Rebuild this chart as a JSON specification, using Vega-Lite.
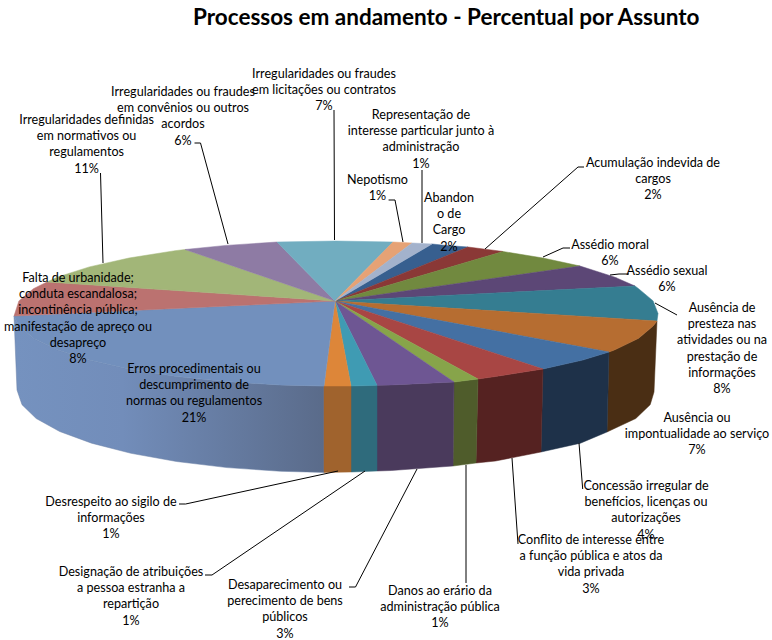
{"$schema":"https://vega.github.io/schema/vega-lite/v6.json","width":772,"height":640,"padding":0,"autosize":{"type":"none"},"background":"white","view":{"stroke":null},
"title":{"text":"Processos em andamento - Percentual por Assunto","anchor":"start","frame":"group","offset":0,"dx":193,"dy":29,"font":"Lato","fontSize":22.5,"fontWeight":"bold","color":"#000000"},
"resolve":{"scale":{"fill":"independent","stroke":"independent"}},
"datasets":{
"topo":[
{"fatia":"Abandono","ordem":0,"x":335,"y":301},{"fatia":"Abandono","ordem":1,"x":432,"y":244},{"fatia":"Abandono","ordem":2,"x":446,"y":245.4},{"fatia":"Abandono","ordem":3,"x":468,"y":247},{"fatia":"Abandono","ordem":4,"x":335,"y":301},
{"fatia":"Acumulacao","ordem":0,"x":335,"y":301},{"fatia":"Acumulacao","ordem":1,"x":468,"y":247},{"fatia":"Acumulacao","ordem":2,"x":497,"y":250.7},{"fatia":"Acumulacao","ordem":3,"x":503,"y":251.5},{"fatia":"Acumulacao","ordem":4,"x":335,"y":301},
{"fatia":"Moral","ordem":0,"x":335,"y":301},{"fatia":"Moral","ordem":1,"x":503,"y":251.5},{"fatia":"Moral","ordem":2,"x":543,"y":258},{"fatia":"Moral","ordem":3,"x":580,"y":266},{"fatia":"Moral","ordem":4,"x":335,"y":301},
{"fatia":"Sexual","ordem":0,"x":335,"y":301},{"fatia":"Sexual","ordem":1,"x":580,"y":266},{"fatia":"Sexual","ordem":2,"x":614.9,"y":277.2},{"fatia":"Sexual","ordem":3,"x":635,"y":286},{"fatia":"Sexual","ordem":4,"x":335,"y":301},
{"fatia":"Presteza","ordem":0,"x":335,"y":301},{"fatia":"Presteza","ordem":1,"x":635,"y":286},{"fatia":"Presteza","ordem":2,"x":638.6,"y":288.7},{"fatia":"Presteza","ordem":3,"x":653.1,"y":300.9},{"fatia":"Presteza","ordem":4,"x":658,"y":313.5},{"fatia":"Presteza","ordem":5,"x":657,"y":321},{"fatia":"Presteza","ordem":6,"x":335,"y":301},
{"fatia":"Impontualidade","ordem":0,"x":335,"y":301},{"fatia":"Impontualidade","ordem":1,"x":657,"y":321},{"fatia":"Impontualidade","ordem":2,"x":653.1,"y":326.1},{"fatia":"Impontualidade","ordem":3,"x":638.6,"y":338.3},{"fatia":"Impontualidade","ordem":4,"x":614.9,"y":349.8},{"fatia":"Impontualidade","ordem":5,"x":609,"y":352},{"fatia":"Impontualidade","ordem":6,"x":335,"y":301},
{"fatia":"Concessao","ordem":0,"x":335,"y":301},{"fatia":"Concessao","ordem":1,"x":609,"y":352},{"fatia":"Concessao","ordem":2,"x":582.7,"y":360.1},{"fatia":"Concessao","ordem":3,"x":543,"y":369},{"fatia":"Concessao","ordem":4,"x":335,"y":301},
{"fatia":"Conflito","ordem":0,"x":335,"y":301},{"fatia":"Conflito","ordem":1,"x":543,"y":369},{"fatia":"Conflito","ordem":2,"x":497,"y":376.3},{"fatia":"Conflito","ordem":3,"x":478,"y":379},{"fatia":"Conflito","ordem":4,"x":335,"y":301},
{"fatia":"Danos","ordem":0,"x":335,"y":301},{"fatia":"Danos","ordem":1,"x":478,"y":379},{"fatia":"Danos","ordem":2,"x":454,"y":382},{"fatia":"Danos","ordem":3,"x":335,"y":301},
{"fatia":"Desaparecimento","ordem":0,"x":335,"y":301},{"fatia":"Desaparecimento","ordem":1,"x":454,"y":382},{"fatia":"Desaparecimento","ordem":2,"x":391.9,"y":384.9},{"fatia":"Desaparecimento","ordem":3,"x":377,"y":385.3},{"fatia":"Desaparecimento","ordem":4,"x":335,"y":301},
{"fatia":"Designacao","ordem":0,"x":335,"y":301},{"fatia":"Designacao","ordem":1,"x":377,"y":385.3},{"fatia":"Designacao","ordem":2,"x":351,"y":386},{"fatia":"Designacao","ordem":3,"x":335,"y":301},
{"fatia":"Desrespeito","ordem":0,"x":335,"y":301},{"fatia":"Desrespeito","ordem":1,"x":351,"y":386},{"fatia":"Desrespeito","ordem":2,"x":324,"y":386},{"fatia":"Desrespeito","ordem":3,"x":335,"y":301},
{"fatia":"Erros","ordem":0,"x":335,"y":301},{"fatia":"Erros","ordem":1,"x":324,"y":386},{"fatia":"Erros","ordem":2,"x":280.1,"y":384.9},{"fatia":"Erros","ordem":3,"x":225.9,"y":381.6},{"fatia":"Erros","ordem":4,"x":175,"y":376.3},{"fatia":"Erros","ordem":5,"x":129,"y":369},{"fatia":"Erros","ordem":6,"x":89.3,"y":360.1},{"fatia":"Erros","ordem":7,"x":57.1,"y":349.8},{"fatia":"Erros","ordem":8,"x":33.4,"y":338.3},{"fatia":"Erros","ordem":9,"x":18.9,"y":326.1},{"fatia":"Erros","ordem":10,"x":14,"y":316},{"fatia":"Erros","ordem":11,"x":335,"y":301},
{"fatia":"Falta","ordem":0,"x":335,"y":301},{"fatia":"Falta","ordem":1,"x":14,"y":316},{"fatia":"Falta","ordem":2,"x":18.9,"y":300.9},{"fatia":"Falta","ordem":3,"x":33.4,"y":288.7},{"fatia":"Falta","ordem":4,"x":47,"y":282},{"fatia":"Falta","ordem":5,"x":335,"y":301},
{"fatia":"Normativos","ordem":0,"x":335,"y":301},{"fatia":"Normativos","ordem":1,"x":47,"y":282},{"fatia":"Normativos","ordem":2,"x":57.1,"y":277.2},{"fatia":"Normativos","ordem":3,"x":89.3,"y":266.9},{"fatia":"Normativos","ordem":4,"x":129,"y":258},{"fatia":"Normativos","ordem":5,"x":175,"y":250.7},{"fatia":"Normativos","ordem":6,"x":185,"y":249.5},{"fatia":"Normativos","ordem":7,"x":335,"y":301},
{"fatia":"Convenios","ordem":0,"x":335,"y":301},{"fatia":"Convenios","ordem":1,"x":185,"y":249.5},{"fatia":"Convenios","ordem":2,"x":225.9,"y":245.4},{"fatia":"Convenios","ordem":3,"x":277,"y":242},{"fatia":"Convenios","ordem":4,"x":335,"y":301},
{"fatia":"Licitacoes","ordem":0,"x":335,"y":301},{"fatia":"Licitacoes","ordem":1,"x":277,"y":242},{"fatia":"Licitacoes","ordem":2,"x":336,"y":241},{"fatia":"Licitacoes","ordem":3,"x":393,"y":242},{"fatia":"Licitacoes","ordem":4,"x":335,"y":301},
{"fatia":"Nepotismo","ordem":0,"x":335,"y":301},{"fatia":"Nepotismo","ordem":1,"x":393,"y":242},{"fatia":"Nepotismo","ordem":2,"x":412,"y":243},{"fatia":"Nepotismo","ordem":3,"x":335,"y":301},
{"fatia":"Representacao","ordem":0,"x":335,"y":301},{"fatia":"Representacao","ordem":1,"x":412,"y":243},{"fatia":"Representacao","ordem":2,"x":432,"y":244},{"fatia":"Representacao","ordem":3,"x":335,"y":301}
],
"lateral":[
{"fatia":"Impontualidade","ordem":1,"x":657,"y":321},{"fatia":"Impontualidade","ordem":2,"x":653.1,"y":326.1},{"fatia":"Impontualidade","ordem":3,"x":638.6,"y":338.3},{"fatia":"Impontualidade","ordem":4,"x":614.9,"y":349.8},{"fatia":"Impontualidade","ordem":5,"x":609,"y":352},{"fatia":"Impontualidade","ordem":6,"x":607,"y":432},{"fatia":"Impontualidade","ordem":7,"x":635.8,"y":418.5},{"fatia":"Impontualidade","ordem":8,"x":650.2,"y":404.7},{"fatia":"Impontualidade","ordem":9,"x":654,"y":392},{"fatia":"Impontualidade","ordem":10,"x":657,"y":321},
{"fatia":"Concessao","ordem":1,"x":609,"y":352},{"fatia":"Concessao","ordem":2,"x":582.7,"y":360.1},{"fatia":"Concessao","ordem":3,"x":543,"y":369},{"fatia":"Concessao","ordem":4,"x":541,"y":452},{"fatia":"Concessao","ordem":5,"x":580.4,"y":443.2},{"fatia":"Concessao","ordem":6,"x":607,"y":432},{"fatia":"Concessao","ordem":7,"x":609,"y":352},
{"fatia":"Conflito","ordem":1,"x":543,"y":369},{"fatia":"Conflito","ordem":2,"x":497,"y":376.3},{"fatia":"Conflito","ordem":3,"x":478,"y":379},{"fatia":"Conflito","ordem":4,"x":476,"y":463},{"fatia":"Conflito","ordem":5,"x":495.5,"y":461},{"fatia":"Conflito","ordem":6,"x":541,"y":452},{"fatia":"Conflito","ordem":7,"x":543,"y":369},
{"fatia":"Danos","ordem":1,"x":478,"y":379},{"fatia":"Danos","ordem":2,"x":454,"y":382},{"fatia":"Danos","ordem":3,"x":453,"y":466},{"fatia":"Danos","ordem":4,"x":476,"y":463},{"fatia":"Danos","ordem":5,"x":478,"y":379},
{"fatia":"Desaparecimento","ordem":1,"x":454,"y":382},{"fatia":"Desaparecimento","ordem":2,"x":391.9,"y":384.9},{"fatia":"Desaparecimento","ordem":3,"x":377,"y":385.3},{"fatia":"Desaparecimento","ordem":4,"x":377,"y":471},{"fatia":"Desaparecimento","ordem":5,"x":391.4,"y":470.5},{"fatia":"Desaparecimento","ordem":6,"x":453,"y":466},{"fatia":"Desaparecimento","ordem":7,"x":454,"y":382},
{"fatia":"Designacao","ordem":1,"x":377,"y":385.3},{"fatia":"Designacao","ordem":2,"x":351,"y":386},{"fatia":"Designacao","ordem":3,"x":351,"y":472},{"fatia":"Designacao","ordem":4,"x":377,"y":471},{"fatia":"Designacao","ordem":5,"x":377,"y":385.3},
{"fatia":"Desrespeito","ordem":1,"x":351,"y":386},{"fatia":"Desrespeito","ordem":2,"x":324,"y":386},{"fatia":"Desrespeito","ordem":3,"x":324,"y":472.4},{"fatia":"Desrespeito","ordem":4,"x":351,"y":472},{"fatia":"Desrespeito","ordem":5,"x":351,"y":386}
],
"lateralErros":[
{"fatia":"Erros","ordem":1,"x":324,"y":386},{"fatia":"Erros","ordem":2,"x":280.1,"y":384.9},{"fatia":"Erros","ordem":3,"x":225.9,"y":381.6},{"fatia":"Erros","ordem":4,"x":175,"y":376.3},{"fatia":"Erros","ordem":5,"x":129,"y":369},{"fatia":"Erros","ordem":6,"x":89.3,"y":360.1},{"fatia":"Erros","ordem":7,"x":57.1,"y":349.8},{"fatia":"Erros","ordem":8,"x":33.4,"y":338.3},{"fatia":"Erros","ordem":9,"x":18.9,"y":326.1},{"fatia":"Erros","ordem":10,"x":14,"y":316},{"fatia":"Erros","ordem":11,"x":17,"y":390},{"fatia":"Erros","ordem":12,"x":22,"y":404.7},{"fatia":"Erros","ordem":13,"x":36.2,"y":418.5},{"fatia":"Erros","ordem":14,"x":59.7,"y":431.5},{"fatia":"Erros","ordem":15,"x":91.6,"y":443.2},{"fatia":"Erros","ordem":16,"x":131,"y":453.3},{"fatia":"Erros","ordem":17,"x":176.5,"y":461.5},{"fatia":"Erros","ordem":18,"x":227,"y":467.6},{"fatia":"Erros","ordem":19,"x":280.6,"y":471.3},{"fatia":"Erros","ordem":20,"x":324,"y":472.4},{"fatia":"Erros","ordem":21,"x":324,"y":386}
],
"guias":[
{"fatia":"Normativos","ordem":1,"x":100.5,"y":173},{"fatia":"Normativos","ordem":2,"x":103,"y":263},
{"fatia":"Convenios","ordem":1,"x":194.5,"y":143},{"fatia":"Convenios","ordem":2,"x":200.5,"y":143},{"fatia":"Convenios","ordem":3,"x":228,"y":244},
{"fatia":"Licitacoes","ordem":1,"x":334,"y":110},{"fatia":"Licitacoes","ordem":2,"x":334.5,"y":240},
{"fatia":"Nepotismo","ordem":1,"x":388.6,"y":200},{"fatia":"Nepotismo","ordem":2,"x":395,"y":200},{"fatia":"Nepotismo","ordem":3,"x":403,"y":242},
{"fatia":"Representacao","ordem":1,"x":422,"y":170},{"fatia":"Representacao","ordem":2,"x":422,"y":243},
{"fatia":"Acumulacao","ordem":1,"x":584,"y":167},{"fatia":"Acumulacao","ordem":2,"x":578,"y":167},{"fatia":"Acumulacao","ordem":3,"x":485,"y":249},
{"fatia":"Moral","ordem":1,"x":570,"y":248},{"fatia":"Moral","ordem":2,"x":563,"y":248},{"fatia":"Moral","ordem":3,"x":543,"y":257},
{"fatia":"Sexual","ordem":1,"x":629,"y":274},{"fatia":"Sexual","ordem":2,"x":619,"y":274},{"fatia":"Sexual","ordem":3,"x":610,"y":275},
{"fatia":"Presteza","ordem":1,"x":655,"y":303},{"fatia":"Presteza","ordem":2,"x":677,"y":315},
{"fatia":"Concessao","ordem":1,"x":579,"y":443},{"fatia":"Concessao","ordem":2,"x":582.7,"y":489},
{"fatia":"Conflito","ordem":1,"x":512,"y":458},{"fatia":"Conflito","ordem":2,"x":518,"y":544},
{"fatia":"Danos","ordem":1,"x":466,"y":465},{"fatia":"Danos","ordem":2,"x":466,"y":583},
{"fatia":"Desaparecimento","ordem":1,"x":417,"y":469},{"fatia":"Desaparecimento","ordem":2,"x":355.5,"y":587},{"fatia":"Desaparecimento","ordem":3,"x":349,"y":587},
{"fatia":"Designacao","ordem":1,"x":365,"y":471},{"fatia":"Designacao","ordem":2,"x":212,"y":575},{"fatia":"Designacao","ordem":3,"x":205,"y":575},
{"fatia":"Desrespeito","ordem":1,"x":338,"y":471},{"fatia":"Desrespeito","ordem":2,"x":185.6,"y":504},{"fatia":"Desrespeito","ordem":3,"x":179,"y":504}
],
"rotulos":[
{"assunto":"Irregularidades ou fraudes em licitações ou contratos","percentual":7,"rotulo":"Irregularidades ou fraudes\nem  licitações ou contratos\n7%","x":324,"y":66},
{"assunto":"Irregularidades ou fraudes em convênios ou outros acordos","percentual":6,"rotulo":"Irregularidades ou fraudes\nem convênios ou outros\nacordos\n6%","x":183,"y":84},
{"assunto":"Irregularidades definidas em normativos ou regulamentos","percentual":11,"rotulo":"Irregularidades definidas\nem normativos ou\nregulamentos\n11%","x":86.6,"y":112},
{"assunto":"Representação de interesse particular junto à administração","percentual":1,"rotulo":"Representação de\ninteresse particular junto à\nadministração\n1%","x":421,"y":107},
{"assunto":"Nepotismo","percentual":1,"rotulo":"Nepotismo\n1%","x":377.5,"y":172},
{"assunto":"Abandono de Cargo","percentual":2,"rotulo":"Abandon\no de\nCargo\n2%","x":449,"y":190},
{"assunto":"Acumulação indevida de cargos","percentual":2,"rotulo":"Acumulação indevida de\ncargos\n2%","x":653,"y":155},
{"assunto":"Assédio moral","percentual":6,"rotulo":"Assédio moral\n6%","x":610,"y":237},
{"assunto":"Assédio sexual","percentual":6,"rotulo":"Assédio sexual\n6%","x":667,"y":263},
{"assunto":"Ausência de presteza nas atividades ou na prestação de informações","percentual":8,"rotulo":"Ausência de\npresteza nas\natividades ou na\nprestação de\ninformações\n8%","x":722,"y":300},
{"assunto":"Ausência ou impontualidade ao serviço","percentual":7,"rotulo":"Ausência ou\nimpontualidade ao serviço\n7%","x":697,"y":410},
{"assunto":"Concessão irregular de benefícios, licenças ou autorizações","percentual":4,"rotulo":"Concessão irregular de\nbenefícios, licenças ou\nautorizações\n4%","x":646,"y":478},
{"assunto":"Conflito de interesse entre a função pública e atos da vida privada","percentual":3,"rotulo":"Conflito de interesse entre\na função pública e atos da\nvida privada\n3%","x":591,"y":532},
{"assunto":"Danos ao erário da administração pública","percentual":1,"rotulo":"Danos ao erário da\nadministração pública\n1%","x":440,"y":583},
{"assunto":"Desaparecimento ou perecimento de bens públicos","percentual":3,"rotulo":"Desaparecimento ou\nperecimento de bens\npúblicos\n3%","x":285,"y":577},
{"assunto":"Designação de atribuições a pessoa estranha a repartição","percentual":1,"rotulo":"Designação de atribuições\na pessoa estranha a\nrepartição\n1%","x":131,"y":564},
{"assunto":"Desrespeito ao sigilo de informações","percentual":1,"rotulo":"Desrespeito ao sigilo de\ninformações\n1%","x":111,"y":494},
{"assunto":"Falta de urbanidade; conduta escandalosa; incontinência pública; manifestação de apreço ou desapreço","percentual":8,"rotulo":"Falta de urbanidade;\nconduta escandalosa;\nincontinência pública;\nmanifestação de apreço ou\ndesapreço\n8%","x":78,"y":270},
{"assunto":"Erros procedimentais ou descumprimento de normas ou regulamentos","percentual":21,"rotulo":"Erros procedimentais ou\ndescumprimento de\nnormas ou regulamentos\n21%","x":194,"y":361}
]
},
"encoding":{
"x":{"field":"x","type":"quantitative","axis":null,"scale":{"domain":[0,772],"nice":false,"zero":false}},
"y":{"field":"y","type":"quantitative","axis":null,"scale":{"domain":[640,0],"nice":false,"zero":false}}
},
"layer":[
{"data":{"name":"lateralErros"},"mark":{"type":"line","strokeWidth":0.5,"stroke":"#6a80a6","fill":{"gradient":"linear","x1":0,"y1":0,"x2":1,"y2":0,"stops":[{"offset":0,"color":"#7592bf"},{"offset":0.35,"color":"#728dba"},{"offset":1,"color":"#5a6b8a"}]}},"encoding":{"order":{"field":"ordem","type":"quantitative"},"detail":{"field":"fatia"}}},
{"data":{"name":"lateral"},"mark":{"type":"line","strokeWidth":0.5},"encoding":{"order":{"field":"ordem","type":"quantitative"},
"fill":{"field":"fatia","type":"nominal","legend":null,"scale":{"domain":["Impontualidade","Concessao","Conflito","Danos","Desaparecimento","Designacao","Desrespeito"],"range":["#4a2e14","#1e3149","#552221","#4f5c2b","#4a3a5c","#2f6b7c","#a0632d"]}},
"stroke":{"field":"fatia","type":"nominal","legend":null,"scale":{"domain":["Impontualidade","Concessao","Conflito","Danos","Desaparecimento","Designacao","Desrespeito"],"range":["#4a2e14","#1e3149","#552221","#4f5c2b","#4a3a5c","#2f6b7c","#a0632d"]}}}},
{"data":{"name":"topo"},"mark":{"type":"line","strokeWidth":0.5},"encoding":{"order":{"field":"ordem","type":"quantitative"},
"fill":{"field":"fatia","type":"nominal","legend":null,"scale":{"domain":["Abandono","Acumulacao","Moral","Sexual","Presteza","Impontualidade","Concessao","Conflito","Danos","Desaparecimento","Designacao","Desrespeito","Erros","Falta","Normativos","Convenios","Licitacoes","Nepotismo","Representacao"],"range":["#375f8f","#8a3836","#71893f","#5c4776","#357d91","#b66d31","#4470a3","#a84644","#87a44a","#6e5693","#3f9bb3","#dd8639","#7290bd","#bb7270","#a2b678","#8e7ba4","#71adc0","#e6a275","#a3b2cc"]}},
"stroke":{"field":"fatia","type":"nominal","legend":null,"scale":{"domain":["Abandono","Acumulacao","Moral","Sexual","Presteza","Impontualidade","Concessao","Conflito","Danos","Desaparecimento","Designacao","Desrespeito","Erros","Falta","Normativos","Convenios","Licitacoes","Nepotismo","Representacao"],"range":["#375f8f","#8a3836","#71893f","#5c4776","#357d91","#b66d31","#4470a3","#a84644","#87a44a","#6e5693","#3f9bb3","#dd8639","#7290bd","#bb7270","#a2b678","#8e7ba4","#71adc0","#e6a275","#a3b2cc"]}}}},
{"data":{"name":"guias"},"mark":{"type":"line","stroke":"#000000","strokeWidth":1},"encoding":{"order":{"field":"ordem","type":"quantitative"},"detail":{"field":"fatia"}}},
{"data":{"name":"rotulos"},"mark":{"type":"text","font":"Lato","fontSize":12.6,"color":"#000000","align":"center","baseline":"top","lineBreak":"\n","lineHeight":16.2,"dy":2},"encoding":{"text":{"field":"rotulo"}}}
]}
